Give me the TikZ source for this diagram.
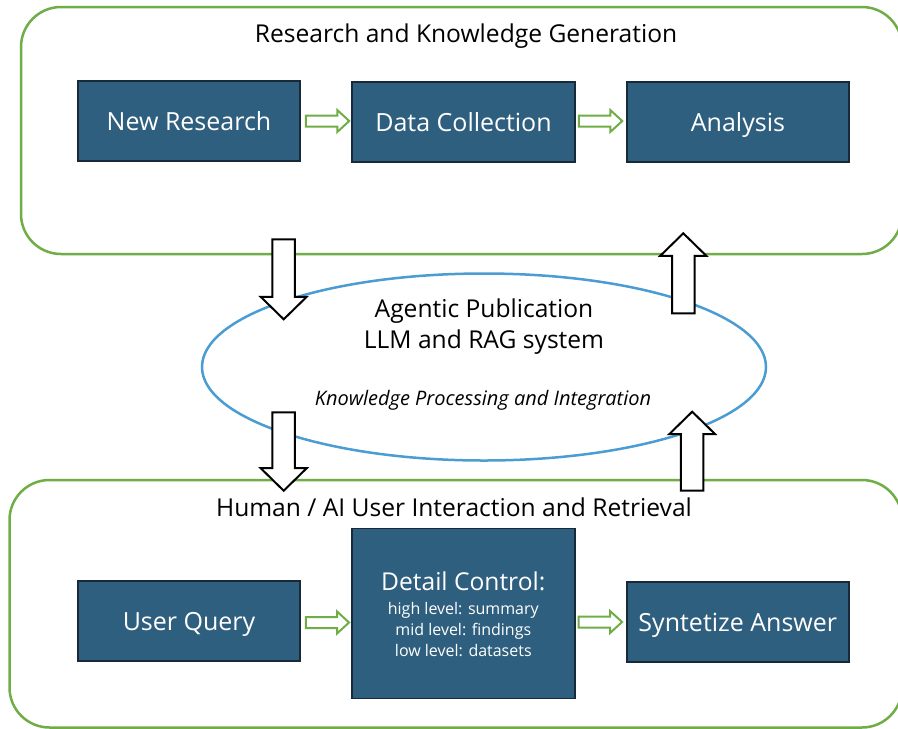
\documentclass[tikz,border=0pt]{standalone}
\usepackage{fontspec}
\setmainfont{Open Sans}
\usetikzlibrary{calc,shapes.geometric}
\definecolor{boxblue}{RGB}{47,95,126}
\definecolor{boxedge}{RGB}{24,42,58}
\definecolor{grn}{RGB}{112,173,71}
\definecolor{ellblue}{RGB}{74,156,211}
\tikzset{
  container/.style={draw=grn, line width=2.5pt, rounded corners=40pt},
  stepbox/.style={draw=boxedge, fill=boxblue, line width=1.5pt, inner sep=0pt,
    text=white, font=\fontsize{25}{30}\selectfont, text height=18pt, text depth=0pt},
  titletext/.style={font=\fontsize{24.6}{29}\selectfont, anchor=base, inner sep=0pt},
  smalltext/.style={font=\fontsize{16}{19}\selectfont, text=white, anchor=base, inner sep=0pt},
  greenarrow/.style={draw=grn, line width=2pt, fill=white, line join=miter},
  bigarrow/.style={draw=black, line width=2pt, fill=white, line join=miter},
}
% horizontal hollow green arrow, from #1 to #2 (y taken from #1)
\newcommand{\grarrow}[2]{\draw[greenarrow] let \p1=(#1), \p2=(#2) in
  (\x1,\y1-5.5pt) -- (\x2-12pt,\y1-5.5pt) -- (\x2-12pt,\y1-11pt) -- (\x2,\y1)
  -- (\x2-12pt,\y1+11pt) -- (\x2-12pt,\y1+5.5pt) -- (\x1,\y1+5.5pt) -- cycle;}
% big hollow arrow pointing down, #1 = tail, #2 = tip
\newcommand{\blkdown}[2]{\draw[bigarrow] let \p1=(#1), \p2=(#2) in
  (\x1-11.25pt,\y1) -- (\x1+11.25pt,\y1) -- (\x1+11.25pt,\y2+22.5pt) -- (\x1+23pt,\y2+22.5pt)
  -- (\x1,\y2) -- (\x1-23pt,\y2+22.5pt) -- (\x1-11.25pt,\y2+22.5pt) -- cycle;}
% big hollow arrow pointing up, #1 = tail, #2 = tip
\newcommand{\blkup}[2]{\draw[bigarrow] let \p1=(#1), \p2=(#2) in
  (\x1-11.25pt,\y1) -- (\x1+11.25pt,\y1) -- (\x1+11.25pt,\y2-22.5pt) -- (\x1+23pt,\y2-22.5pt)
  -- (\x1,\y2) -- (\x1-23pt,\y2-22.5pt) -- (\x1-11.25pt,\y2-22.5pt) -- cycle;}
\begin{document}
\begin{tikzpicture}[x=1pt,y=-1pt]
\useasboundingbox (0,0) rectangle (898,729);
\fill[white] (0,0) rectangle (898,729);

% containers
\draw[container] (21,7) rectangle (902,254);
\draw[container] (9.5,480) rectangle (902,727.5);

\node[titletext] (toptitle) at (466,42.7) {Research and Knowledge Generation};
\node[titletext] (bottitle) at (454,516.7) {Human / AI User Interaction and Retrieval};

% top row
\node[stepbox, minimum width=222pt, minimum height=80pt] (nr) at (189,121) {New Research};
\node[stepbox, minimum width=223pt, minimum height=80pt] (dc) at (463.5,122) {Data Collection};
\node[stepbox, minimum width=222pt, minimum height=80pt] (an) at (738,122) {Analysis};
\grarrow{$(nr.east)+(5,0)$}{$(dc.west)+(-2,0)$}
\grarrow{$(dc.east)+(3,-1)$}{$(an.west)+(-4,0)$}

% bottom row
\node[stepbox, minimum width=222pt, minimum height=80pt] (uq) at (189,621) {User Query};
\node[stepbox, minimum width=223pt, minimum height=170pt] (dcl) at (463.3,613.3) {};
\node[titletext, text=white] (dclt) at (463.3,590) {Detail Control:};
\node[smalltext] (dl1) at (463.3,614) {high level: summary};
\node[smalltext] (dl2) at (463.3,635) {mid level: findings};
\node[smalltext] (dl3) at (463.3,656) {low level: datasets};
\node[stepbox, minimum width=222pt, minimum height=80pt] (sa) at (737.8,622) {Syntetize Answer};
\grarrow{$(uq.east)+(5,1.5)$}{$(dcl.west |- uq.east)+(-2,0)$}
\grarrow{$(dcl.east |- sa.west)+(3,0)$}{$(sa.west)+(-4,0)$}

% central ellipse
\node[ellipse, draw=ellblue, line width=2.5pt, inner sep=0pt,
  minimum width=564pt, minimum height=187pt] (llm) at (484,367) {};
\node[titletext] (l1) at (484,317) {Agentic Publication};
\node[titletext] (l2) at (484,348) {LLM and RAG system};
\node[titletext, font=\fontsize{20}{24}\selectfont\itshape] (l3) at (483,405.5) {Knowledge Processing and Integration};

% big hollow arrows
\coordinate (d1s) at (283.7,239.3); \coordinate (d1e) at (283.7,319.3);
\coordinate (u1s) at (683.3,313.3); \coordinate (u1e) at (683.3,233.3);
\coordinate (d2s) at (283.7,412.3); \coordinate (d2e) at (283.7,490.7);
\coordinate (u2s) at (692.2,490.7); \coordinate (u2e) at (692.2,411.7);
\blkdown{d1s}{d1e}
\blkup{u1s}{u1e}
\blkdown{d2s}{d2e}
\blkup{u2s}{u2e}
\end{tikzpicture}
\end{document}
